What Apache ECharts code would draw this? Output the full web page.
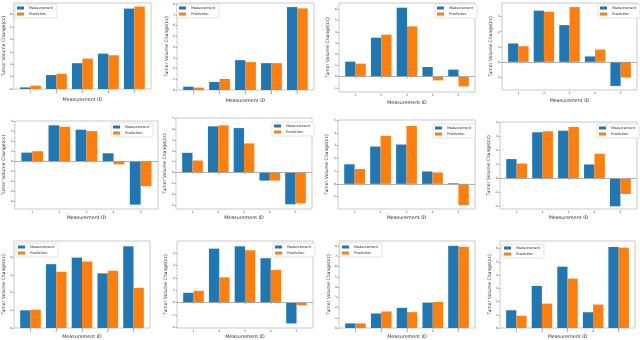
<!DOCTYPE html>
<html>
<head>
<meta charset="utf-8">
<script src="https://cdn.jsdelivr.net/npm/echarts@6/dist/echarts.min.js"></script>
<style>
  html, body { margin: 0; padding: 0; background: #fff; }
  #chart { width: 640px; height: 340px; }
</style>
</head>
<body>
<div id="chart"></div>
<script>
// measurement ids on the x axis
const measurementIds = [1, 2, 3, 4, 5]

// tumor volume change per panel (12 patients)
const measurement = [
  [0.13, 1.12, 2.08, 2.85, 6.48],
  [0.31, 0.75, 2.78, 2.5, 7.72],
  [1.34, 3.48, 6.16, 0.86, 0.63],
  [1.22, 3.4, 2.44, 0.36, -1.6],
  [0.88, 3.63, 3.19, 0.81, -4.37],
  [1.82, 4.26, 4.1, -0.74, -2.93],
  [1.53, 2.92, 3.08, 0.97, 0.05],
  [1.38, 3.29, 3.4, 1.0, -1.98],
  [1.0, 3.61, 3.98, 3.09, 4.62],
  [0.8, 4.37, 4.56, 3.6, -1.68],
  [0.45, 1.42, 1.97, 2.48, 8.03],
  [1.34, 3.18, 4.63, 1.19, 6.12]
]
const prediction = [
  [0.27, 1.23, 2.45, 2.72, 6.64],
  [0.22, 1.03, 2.6, 2.5, 7.6],
  [1.16, 3.75, 4.49, -0.33, -0.86],
  [1.04, 3.33, 3.64, 0.82, -1.04],
  [1.02, 3.49, 3.05, -0.3, -2.51],
  [1.11, 4.35, 2.69, -0.74, -2.84],
  [1.16, 3.76, 4.53, 0.89, -1.66],
  [1.07, 3.36, 3.67, 1.76, -1.1],
  [1.04, 3.18, 3.76, 3.24, 2.27],
  [0.96, 2.05, 4.24, 2.64, -0.21],
  [0.45, 1.61, 1.55, 2.55, 7.94],
  [0.92, 1.84, 3.73, 1.77, 6.07]
]
// y axis limits per panel
const yLimits = [
  [0, 6.93], [0, 8.1], [-1.37, 6.58], [-1.87, 3.91],
  [-4.81, 4.07], [-3.36, 5.03], [-1.97, 5.0], [-2.17, 4.02],
  [0, 4.92], [-2.05, 4.99], [0, 8.5], [0, 6.57]
]

// plot frames [left, top, right, bottom] in px
const frames = [
  [13, 3, 151, 89], [177, 3, 314, 90], [339, 3, 475, 92], [502, 3, 637, 90],
  [14, 121, 158, 209], [176, 118, 312, 209], [338, 120, 475, 209], [500, 122, 637, 209],
  [14, 241, 150, 329], [177, 241, 313, 329], [339, 241, 475, 329], [500, 241, 635, 329]
]
// legend box top-left corners
const legendPos = [
  [15, 4], [177, 4], [435, 4], [598, 4],
  [111, 123], [272, 122], [433, 124], [597, 124],
  [16, 243], [273, 243], [340, 243], [502, 244]
]

const BLUE = '#1f77b4'
const ORANGE = '#ff7f0e'
const FONT = 'DejaVu Sans'

const chart = echarts.init(document.getElementById('chart'), null, { renderer: 'canvas' })

const grids = [], xAxes = [], yAxes = [], series = [], legends = []

frames.forEach((f, i) => {
  const [lo, hi] = yLimits[i]
  const yTicks = []
  for (let t = Math.ceil(lo); t <= Math.floor(hi); t++) yTicks.push(t)

  grids.push({
    left: f[0], top: f[1], width: f[2] - f[0], height: f[3] - f[1],
    show: true, borderColor: '#bdbdbd', borderWidth: 0.8, backgroundColor: '#fff'
  })

  xAxes.push({
    type: 'value', gridIndex: i, min: 0.36, max: 5.64,
    name: 'Measurement ID', nameLocation: 'middle', nameGap: i < 4 ? 8 : 6,
    nameTextStyle: { fontSize: 4.8, color: '#333', fontFamily: FONT },
    axisLine: { show: false },
    splitLine: { show: false },
    axisTick: { show: true, length: 1.5, lineStyle: { color: '#555', width: 0.5 }, customValues: measurementIds },
    axisLabel: { fontSize: 3, color: '#444', margin: 2, fontFamily: FONT, customValues: measurementIds }
  })

  yAxes.push({
    type: 'value', gridIndex: i, min: lo, max: hi,
    name: 'Tumor Volume Change(cc)', nameLocation: 'middle', nameGap: 6.5,
    nameTextStyle: { fontSize: 4.6, color: '#333', fontFamily: FONT },
    axisLine: { show: false },
    splitLine: { show: false },
    axisTick: { show: true, length: 1.5, lineStyle: { color: '#555', width: 0.5 }, customValues: yTicks },
    axisLabel: { fontSize: 3, color: '#444', margin: 2, fontFamily: FONT, customValues: yTicks }
  })

  series.push({
    name: 'Measurement', type: 'bar', xAxisIndex: i, yAxisIndex: i,
    data: measurementIds.map((id, k) => [id, measurement[i][k]]),
    barWidth: '40%', barGap: '0%',
    itemStyle: { color: BLUE },
    markLine: lo < 0 ? {
      silent: true, symbol: 'none', label: { show: false },
      lineStyle: { color: '#9e9e9e', width: 0.8, type: 'solid' },
      data: [{ yAxis: 0 }]
    } : undefined
  })
  series.push({
    name: 'Prediction', type: 'bar', xAxisIndex: i, yAxisIndex: i,
    data: measurementIds.map((id, k) => [id, prediction[i][k]]),
    barWidth: '40%', barGap: '0%',
    itemStyle: { color: ORANGE }
  })

  legends.push({
    data: ['Measurement', 'Prediction'],
    left: legendPos[i][0], top: legendPos[i][1],
    orient: 'vertical', icon: 'rect',
    itemWidth: 7, itemHeight: 3, itemGap: 2,
    padding: [2, 4, 2, 2],
    borderColor: '#d0d0d0', borderWidth: 0.6, borderRadius: 1,
    backgroundColor: '#fff',
    textStyle: { fontSize: 3.5, color: '#333', fontFamily: FONT, padding: [0, 12, 0, 0] },
    selectedMode: false
  })
})

chart.setOption({
  animation: false,
  backgroundColor: '#fff',
  grid: grids,
  xAxis: xAxes,
  yAxis: yAxes,
  legend: legends,
  series: series
})
</script>
</body>
</html>
